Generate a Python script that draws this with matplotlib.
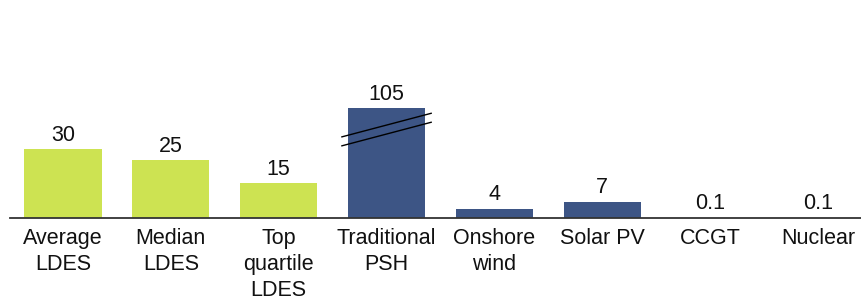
import matplotlib.pyplot as plt
import numpy as np

plt.rcParams['font.family'] = ['Liberation Sans', 'DejaVu Sans']

# chart data
categories = ["Average\nLDES", "Median\nLDES", "Top\nquartile\nLDES", "Traditional\nPSH",
              "Onshore\nwind", "Solar PV", "CCGT", "Nuclear"]
values = [30, 25, 15, 105, 4, 7, 0.1, 0.1]
value_labels = ["30", "25", "15", "105", "4", "7", "0.1", "0.1"]
is_ldes = [True, True, True, False, False, False, False, False]

green = "#CDE352"
blue = "#3D5585"
cap = 47.8  # the PSH bar is drawn broken at this height
fs = 15.5

fig = plt.figure(figsize=(8.61, 3.04), dpi=100)
ax = fig.add_axes([10 / 861, 0.283, 851 / 861, 0.717])

x = np.arange(len(categories))
shown = np.minimum(values, cap)
colors = [green if g else blue for g in is_ldes]
bars = ax.bar(x, shown, width=0.715, color=colors)

for xi, h, lab in zip(x, shown, value_labels):
    ax.annotate(lab, (xi, h), xytext=(0, 2.5), textcoords="offset points",
                ha="center", va="bottom", fontsize=fs, color="#111111")

# break marks on the truncated bar
ibrk = int(np.argmax(values))
for y0 in (35.2, 31.3):
    ax.plot([x[ibrk] - 0.42, x[ibrk] + 0.42], [y0, y0 + 10.4], color="black", lw=1.0,
            solid_capstyle="butt")

ax.set_xlim(-0.491, 7.399)
ax.set_ylim(0, 94.8)
ax.set_xticks(x)
ax.set_xticklabels(categories, fontsize=fs, color="#111111", linespacing=1.33)
ax.tick_params(axis="x", length=0, pad=7)
ax.set_yticks([])
for s in ("top", "right", "left"):
    ax.spines[s].set_visible(False)
ax.spines["bottom"].set_color("#333333")
ax.spines["bottom"].set_linewidth(1.3)

fig.savefig("out.png", dpi=100)
